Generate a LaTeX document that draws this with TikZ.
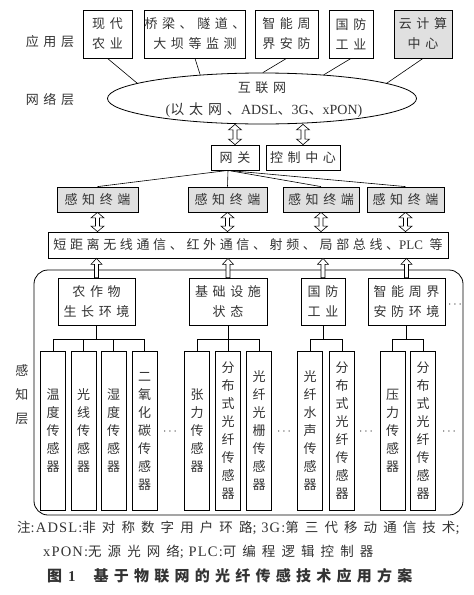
\documentclass[tikz,border=0pt]{standalone}
\usepackage{fontspec}
\setmainfont{Liberation Serif}
\newfontfamily\cjk{Noto Sans CJK SC}
\newfontfamily\cjks[LetterSpace=35]{Noto Sans CJK SC}
\newfontfamily\cjkb[LetterSpace=28]{Noto Sans CJK SC}
\newfontfamily\cjkn[LetterSpace=45]{Noto Sans CJK SC}
\newfontfamily\latn[LetterSpace=8]{Liberation Serif}
\usetikzlibrary{calc,shapes.geometric}
\newcommand{\dblarr}[2]{%
  \draw[arr] let \p1=(#1), \p2=(#2) in
    (\x1,\y2) -- (\x1+6.5pt,\y2-5.5pt) -- (\x1+2pt,\y2-5.5pt) -- (\x1+2pt,\y1+5.5pt)
    -- (\x1+6.5pt,\y1+5.5pt) -- (\x1,\y1) -- (\x1-6.5pt,\y1+5.5pt) -- (\x1-2pt,\y1+5.5pt)
    -- (\x1-2pt,\y2-5.5pt) -- (\x1-6.5pt,\y2-5.5pt) -- cycle;}
\newcommand{\uparr}[2]{%
  \draw[arr] let \p1=(#1), \p2=(#2) in
    (\x1,\y2) -- (\x1+5.5pt,\y2-6pt) -- (\x1+2pt,\y2-6pt) -- (\x1+2pt,\y1)
    -- (\x1-2pt,\y1) -- (\x1-2pt,\y2-6pt) -- (\x1-5.5pt,\y2-6pt) -- cycle;}
\begin{document}
\begin{tikzpicture}[x=1pt,y=-1pt,
  every node/.style={text=black!80, inner sep=0pt},
  box/.style={draw=black, line width=0.8pt, align=center, font=\cjks\fontsize{13}{20}\selectfont},
  gbox/.style={box, fill=black!12},
  col/.style={draw=black, line width=0.8pt, minimum width=25pt, minimum height=159pt, align=center, font=\cjk\fontsize{13}{18}\selectfont},
  conn/.style={line width=0.6pt},
  arr/.style={line width=0.6pt, fill=white, draw=black},
  lbl/.style={font=\cjks\fontsize{13}{24}\selectfont, align=center},
  dots/.style={font=\fontsize{12}{12}\selectfont},
]
\useasboundingbox (0,0) rectangle (474,595);
% application layer
\node[lbl] (lapp) at (50,42) {应用层};
\node[box, minimum width=49pt, minimum height=48pt] (a1) at (107.5,34) {现代\\农业};
\node[box, minimum width=100pt, minimum height=48pt] (a2) at (195,34) {桥梁、隧道、\\大坝等监测};
\node[box, minimum width=63pt, minimum height=48pt] (a3) at (286.5,34) {智能周\\界安防};
\node[box, minimum width=44pt, minimum height=48pt] (a4) at (351,34) {国防\\工业};
\node[gbox, minimum width=58pt, minimum height=48pt] (a5) at (423,34) {云计算\\中心};
% network layer
\node[lbl] (lnet) at (50,100) {网络层};
\node[ellipse, draw=black, line width=0.8pt, minimum width=309pt, minimum height=51pt] (net) at (262,98.5) {};
\node[font=\cjks\fontsize{13}{20}\selectfont] (nt1) at (262,88) {互联网};
\node[font=\fontsize{14}{20}\selectfont] (nt2) at (264,110) {({\cjks 以太网、}ADSL{\cjk 、}3G{\cjk 、}xPON)};
\draw[conn] (a1.south) -- (net.173);
\draw[conn] (a2.south) -- (net.159);
\draw[conn] (a3.south) -- (net.88);
\draw[conn] (a4.south) -- (net.21);
\draw[conn] (a5.south) -- (net.7);
\node[box, minimum width=48pt, minimum height=25pt] (gw) at (235,157.5) {网关};
\node[box, minimum width=74pt, minimum height=25pt] (ctrl) at (303,157.5) {控制中心};
\dblarr{gw.north}{net.south}
\dblarr{ctrl.north}{net.south}
% terminals
\node[gbox, minimum width=81pt, minimum height=25pt] (t1) at (97.5,199.5) {感知终端};
\node[gbox, minimum width=79pt, minimum height=25pt] (t2) at (227.5,199.5) {感知终端};
\node[gbox, minimum width=76pt, minimum height=25pt] (t3) at (321,199.5) {感知终端};
\node[gbox, minimum width=77pt, minimum height=25pt] (t4) at (405.5,199.5) {感知终端};
\coordinate (gwb) at ($(gw.south)+(-7,0)$);
\draw[conn] (gwb) -- (t1.north);
\draw[conn] (gwb) -- (t2.north);
\draw[conn] (gwb) -- (t3.north);
\draw[conn] (gwb) -- (t4.north);
% bar
\node[box, font=\cjkb\fontsize{13}{20}\selectfont, minimum width=400pt, minimum height=26pt] (bar) at (248,245) {短距离无线通信、红外通信、射频、局部总线、{\rmfamily PLC} 等};
\dblarr{t1.south |- bar.north}{t1.south}
\dblarr{t2.south |- bar.north}{t2.south}
\dblarr{t3.south |- bar.north}{t3.south}
\dblarr{t4.south |- bar.north}{t4.south}
% perception layer frame
\draw[line width=0.8pt, rounded corners=14pt] (34,270) rectangle (463,515);
\node[lbl] (lsen) at (22,395) {感\\知\\层};
\node[box, minimum width=77pt, minimum height=47pt] (b1) at (96.5,301.5) {农作物\\生长环境};
\node[box, minimum width=78pt, minimum height=47pt] (b2) at (228,301.5) {基础设施\\状态};
\node[box, minimum width=44pt, minimum height=47pt] (b3) at (323,301.5) {国防\\工业};
\node[box, minimum width=77pt, minimum height=47pt] (b4) at (406.5,301.5) {智能周界\\安防环境};
\uparr{b1.north}{bar.south}
\uparr{b2.north}{bar.south}
\uparr{b3.north}{bar.south}
\uparr{b4.north}{bar.south}
\node[dots] (d0) at (455,305) {$\cdots$};
% sensor columns
\node[col] (c11) at (53,431) {温\\度\\传\\感\\器};
\node[col] (c12) at (83.5,431) {光\\线\\传\\感\\器};
\node[col] (c13) at (113.5,431) {湿\\度\\传\\感\\器};
\node[col] (c14) at (144.5,431) {二\\氧\\化\\碳\\传\\感\\器};
\node[col] (c21) at (197,431) {张\\力\\传\\感\\器};
\node[col] (c22) at (228,431) {分\\布\\式\\光\\纤\\传\\感\\器};
\node[col] (c23) at (259,431) {光\\纤\\光\\栅\\传\\感\\器};
\node[col] (c31) at (310,431) {光\\纤\\水\\声\\传\\感\\器};
\node[col] (c32) at (342,431) {分\\布\\式\\光\\纤\\传\\感\\器};
\node[col] (c41) at (392.5,431) {压\\力\\传\\感\\器};
\node[col] (c42) at (423,431) {分\\布\\式\\光\\纤\\传\\感\\器};
\node[dots] (d1) at (170,432) {$\cdots$};
\node[dots] (d2) at (284,432) {$\cdots$};
\node[dots] (d3) at (366,432) {$\cdots$};
\node[dots] (d4) at (449,432) {$\cdots$};
% trees
\draw[conn] (b1.south) -- ++(0,14) coordinate (j1);
\draw[conn] (c11.north) -- (c11.north |- j1) -- (c14.north |- j1) -- (c14.north);
\draw[conn] (c12.north) -- (c12.north |- j1);
\draw[conn] (c13.north) -- (c13.north |- j1);
\draw[conn] (b2.south) -- ++(0,14) coordinate (j2);
\draw[conn] (c21.north) -- (c21.north |- j2) -- (c23.north |- j2) -- (c23.north);
\draw[conn] (c22.north) -- (c22.north |- j2);
\draw[conn] (b3.south) -- ++(0,14) coordinate (j3);
\draw[conn] (c31.north) -- (c31.north |- j3) -- (c32.north |- j3) -- (c32.north);
\draw[conn] (b4.south) -- ++(0,14) coordinate (j4);
\draw[conn] (c41.north) -- (c41.north |- j4) -- (c42.north |- j4) -- (c42.north);
% notes
\node[anchor=west, font=\latn\fontsize{14.5}{16}\selectfont] (n1) at (17,528) {{\cjkn\fontsize{13.5}{16}\selectfont 注}:ADSL:{\cjkn\fontsize{13.5}{16}\selectfont 非对称数字用户环路}; 3G:{\cjkn\fontsize{13.5}{16}\selectfont 第三代移动通信技术};};
\node[anchor=west, font=\latn\fontsize{14.5}{16}\selectfont] (n2) at (43,552) {xPON:{\cjkn\fontsize{13.5}{16}\selectfont 无源光网络}; PLC:{\cjkn\fontsize{13.5}{16}\selectfont 可编程逻辑控制器}};
\node[anchor=west, font=\bfseries\fontsize{15}{18}\selectfont] (cap) at (47,576) {{\cjks\bfseries 图}\hspace{6pt}1\hspace{18pt}{\cjks\bfseries 基于物联网的光纤传感技术应用方案}};
\end{tikzpicture}
\end{document}
